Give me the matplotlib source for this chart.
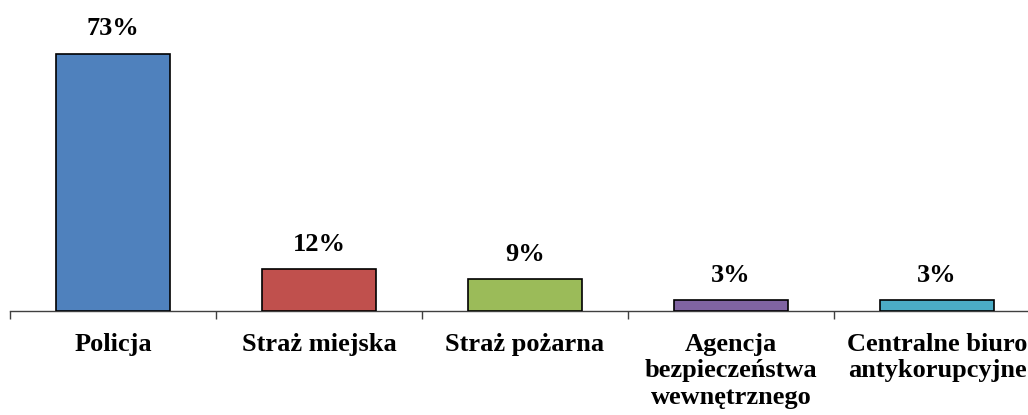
import matplotlib
matplotlib.use("Agg")
import matplotlib.pyplot as plt

# ── dane ─────────────────────────────────────────────────────────────────────
kategorie = ["Policja", "Straż miejska", "Straż pożarna",
             "Agencja\nbezpieczeństwa\nwewnętrznego",
             "Centralne biuro\nantykorupcyjne"]
wartosci = [73, 12, 9, 3, 3]
etykiety = ["73%", "12%", "9%", "3%", "3%"]
kolory = ["#4F81BD", "#C0504D", "#9BBB59", "#8064A2", "#4BACC6"]

plt.rcParams["font.family"] = ["Liberation Serif", "DejaVu Serif"]

W, H = 1028, 415
fig = plt.figure(figsize=(W / 100, H / 100), dpi=100)
# oś: od x=10 px, szerokość 5 kategorii po 206 px, linia bazowa na y=311 px
ax = fig.add_axes([10 / W, (H - 311) / H, 1030 / W, 282 / H])

x = list(range(len(kategorie)))
barras = ax.bar(x, wartosci, width=0.553, color=kolory,
                edgecolor="black", linewidth=1.2, zorder=3)

for b, lab in zip(barras, etykiety):
    ax.annotate(lab, (b.get_x() + b.get_width() / 2, b.get_height()),
                xytext=(0, 9.5), textcoords="offset points",
                ha="center", va="bottom", fontsize=19, fontweight="bold")

ax.set_xlim(-0.5, len(kategorie) - 0.5)
ax.set_ylim(0, 80)

for s in ["top", "right", "left"]:
    ax.spines[s].set_visible(False)
ax.spines["bottom"].set_color("#404040")
ax.spines["bottom"].set_linewidth(1.0)
ax.set_yticks([])

# znaczniki na granicach kategorii, etykiety pośrodku
ax.set_xticks([i - 0.5 for i in range(len(kategorie) + 1)])
ax.set_xticklabels([])
ax.tick_params(axis="x", which="major", direction="out", length=6,
               color="#404040", width=1.0)
ax.set_xticks(x, minor=True)
ax.set_xticklabels(kategorie, minor=True, fontsize=19, fontweight="bold",
                   linespacing=1.22, va="top")
ax.tick_params(axis="x", which="minor", length=0, pad=15.5)

fig.savefig("out.png", dpi=100)
